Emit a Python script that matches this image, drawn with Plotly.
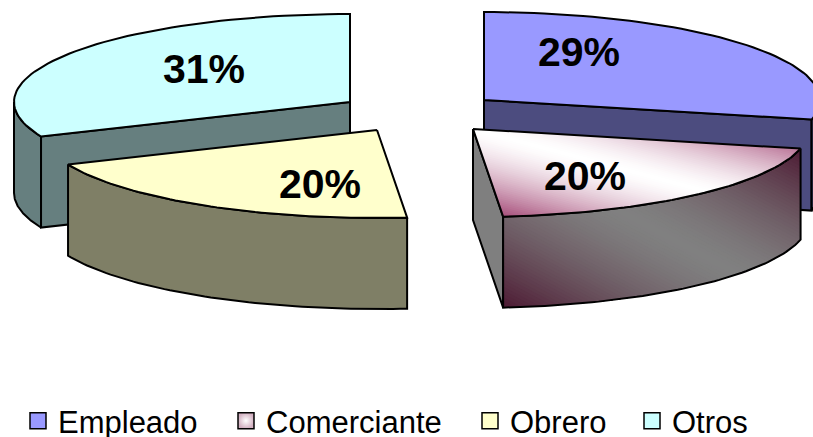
import math
import plotly.graph_objects as go

# ---- data ----
categories = ["Empleado", "Comerciante", "Obrero", "Otros"]
counts = [10, 7, 7, 11]

# ---- styling / layout constants ----
top_colors = ["#9999FF", "#FFFFFF", "#FFFFCC", "#CCFFFF"]
wall_colors = ["#4C4C7F", "#7F7F7F", "#7F7F66", "#667F7F"]
apex = {"Empleado": (484, 100), "Comerciante": (473, 129), "Obrero": (377, 130), "Otros": (350, 102)}
label_at = {"Empleado": (579, 52), "Comerciante": (585, 176), "Obrero": (320, 184), "Otros": (204, 69)}
draw_order = ["Otros", "Empleado", "Obrero", "Comerciante"]
RX, RY, DEPTH = 336, 88, 91
EDGE = dict(color="#000000", width=2)
GRAD_END_TOP = (153, 51, 102)
GRAD_MID_TOP = (255, 255, 255)
GRAD_END_WALL = (77, 26, 51)
GRAD_MID_WALL = (128, 128, 128)
LEGEND_WIDTHS = [163, 199, 117, 80]
FIG_H = 480

total = sum(counts)
spans = {}
acc = 0.0
for c, v in zip(categories, counts):
    a0 = acc
    acc += 360.0 * v / total
    spans[c] = (a0, acc)


def rim(c, deg):
    cx, cy = apex[c]
    t = math.radians(deg)
    return (cx + RX * math.sin(t), cy - RY * math.cos(t))


def arc(c, a0, a1, n=60):
    return [rim(c, a0 + (a1 - a0) * i / n) for i in range(n + 1)]


def drop(points):
    return [(x, y + DEPTH) for x, y in points]


def top_poly(c):
    a0, a1 = spans[c]
    return [apex[c]] + arc(c, a0, a1) + [apex[c]]


def wall_poly(c, a0, a1):
    pts = arc(c, a0, a1)
    return pts + drop(pts)[::-1] + [pts[0]]


def cut_poly(c, a):
    p = [apex[c], rim(c, a)]
    return p + drop(p)[::-1] + [p[0]]


fig = go.Figure()


def add_poly(poly, fill, line=EDGE):
    fig.add_trace(go.Scatter(
        x=[p[0] for p in poly], y=[p[1] for p in poly],
        mode="lines", fill="toself", fillcolor=fill,
        line=line if line else dict(width=0),
        showlegend=False, hoverinfo="skip"))


def add_outline(poly):
    fig.add_trace(go.Scatter(
        x=[p[0] for p in poly], y=[p[1] for p in poly],
        mode="lines", line=EDGE, showlegend=False, hoverinfo="skip"))


def clip_half(poly, f, level):
    out = []
    for i in range(len(poly)):
        a, b = poly[i], poly[(i + 1) % len(poly)]
        fa, fb = f(a) - level, f(b) - level
        if fa >= 0:
            out.append(a)
        if (fa >= 0) != (fb >= 0):
            s = fa / (fa - fb)
            out.append((a[0] + (b[0] - a[0]) * s, a[1] + (b[1] - a[1]) * s))
    return out


def add_diagonal_gradient(poly, mid, end, steps=90):
    xs = [p[0] for p in poly]
    ys = [p[1] for p in poly]
    x0, x1, y0, y1 = min(xs), max(xs), min(ys), max(ys)
    f = lambda p: (p[0] - x0) / (x1 - x0) + (y1 - p[1]) / (y1 - y0)
    for i in range(steps):
        level = 2.0 * i / steps
        part = clip_half(poly[:-1], f, level)
        if len(part) < 3:
            continue
        k = abs((2.0 * (i + 0.5) / steps) - 1.0) ** 1.5
        col = tuple(round(m + (e - m) * k) for m, e in zip(mid, end))
        add_poly(part + [part[0]], "rgb(%d,%d,%d)" % col, line=None)
    add_outline(poly)


for c in draw_order:
    idx = categories.index(c)
    a0, a1 = spans[c]
    if c == "Otros":
        add_poly(wall_poly(c, a0, 270), wall_colors[idx])
        add_poly(cut_poly(c, a0), wall_colors[idx])
    elif c == "Empleado":
        add_poly(cut_poly(c, a1), wall_colors[idx])
        add_poly(wall_poly(c, 90, a1), wall_colors[idx])
    elif c == "Obrero":
        add_poly(wall_poly(c, a0, a1), wall_colors[idx])
    else:
        add_poly(cut_poly(c, a1), wall_colors[idx])
        add_diagonal_gradient(wall_poly(c, a0, a1), GRAD_MID_WALL, GRAD_END_WALL)
    if c == "Comerciante":
        add_diagonal_gradient(top_poly(c), GRAD_MID_TOP, GRAD_END_TOP)
    else:
        add_poly(top_poly(c), top_colors[idx])

# legend entries
for i, c in enumerate(categories):
    marker = dict(symbol="square", size=17, color=top_colors[i], line=dict(color="#000000", width=1.5))
    if c == "Comerciante":
        marker["color"] = "#D2B0C1"
        marker["gradient"] = dict(type="radial", color="#FFFFFF")
    fig.add_trace(go.Scatter(x=[None], y=[None], mode="markers", name=c, marker=marker,
                             legendwidth=LEGEND_WIDTHS[i], hoverinfo="skip"))

annotations = [
    dict(x=label_at[c][0], y=label_at[c][1], xref="x", yref="y",
         text="%d%%" % round(100 * v / total), showarrow=False,
         font=dict(family="Liberation Sans", size=41, color="#000000", weight="bold"))
    for c, v in zip(categories, counts)
]

fig.update_layout(
    width=813, height=FIG_H, autosize=False,
    margin=dict(l=0, r=0, t=0, b=0),
    paper_bgcolor="#FFFFFF", plot_bgcolor="#FFFFFF",
    xaxis=dict(range=[0, 813], visible=False, fixedrange=True),
    yaxis=dict(range=[FIG_H, 0], visible=False, fixedrange=True),
    annotations=annotations,
    showlegend=True,
    legend=dict(orientation="h", x=18 / 813, xanchor="left", y=1 - 421 / FIG_H, yanchor="middle",
                font=dict(family="Liberation Sans", size=31, color="#000000"),
                bgcolor="rgba(0,0,0,0)", itemclick=False, itemdoubleclick=False, traceorder="normal"),
)
fig.write_html("out.html", config={"displayModeBar": False},
               post_script="document.documentElement.style.overflow='hidden';document.body.style.margin='0';")
